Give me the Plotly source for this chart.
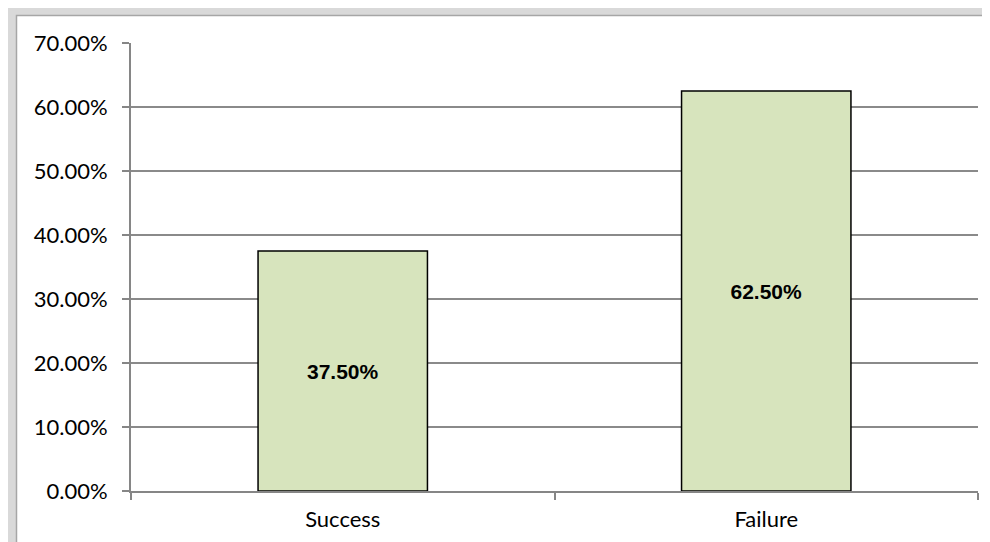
import plotly.graph_objects as go

categories = ["Success", "Failure"]
values = [0.375, 0.625]
y_ticks = [0, 0.1, 0.2, 0.3, 0.4, 0.5, 0.6, 0.7]

W, H = 990, 542
L, R, T, B = 123, 20, 35, 59
pw, ph = W - L - R, H - T - B

def px_x(p):
    return (p - L) / pw

def px_y(p):
    return (H - B - p) / ph

fig = go.Figure()
fig.add_trace(go.Bar(
    x=categories, y=values,
    marker=dict(color="#D7E4BD", line=dict(color="#000000", width=1.5)),
    texttemplate="%{y:.2%}", textposition="inside", insidetextanchor="middle",
    textfont=dict(family="Liberation Sans, Arial, sans-serif", size=21, color="#000000", weight="bold"),
    hoverinfo="skip",
))

shapes = [
    # outer gray frame
    dict(type="rect", xref="paper", yref="paper", x0=px_x(0), x1=px_x(W), y0=px_y(H), y1=px_y(0),
         fillcolor="#d9d9d9", line=dict(width=0), layer="below"),
    # inner white area with darker border
    dict(type="rect", xref="paper", yref="paper", x0=px_x(8.5), x1=px_x(W + 5), y0=px_y(H + 5), y1=px_y(7.5),
         fillcolor="#ffffff", line=dict(color="#a6a6a6", width=1.5), layer="below"),
]

fig.update_layout(
    width=W, height=H,
    margin=dict(l=L, r=R, t=T, b=B),
    paper_bgcolor="#ffffff", plot_bgcolor="rgba(0,0,0,0)",
    bargap=0.6, showlegend=False,
    shapes=shapes,
    font=dict(family="Lato", size=22, color="#000000"),
)
fig.update_xaxes(
    showline=True, linecolor="#868686", linewidth=2,
    ticks="outside", tickson="boundaries", ticklen=7, tickcolor="#868686", tickwidth=1.5,
    ticklabelstandoff=8,
    showgrid=False, tickfont=dict(family="Lato", size=22, color="#000000"),
)
fig.update_yaxes(
    range=[0, 0.7], tickvals=y_ticks, tickformat=".2%",
    showline=True, linecolor="#868686", linewidth=2,
    ticks="outside", ticklen=7, tickcolor="#868686", tickwidth=1.5,
    ticklabelstandoff=10,
    showgrid=True, gridcolor="#8a8a8a", gridwidth=1.5,
    zeroline=False, tickfont=dict(family="Lato", size=22, color="#000000"),
)

fig.write_html("out.html")
